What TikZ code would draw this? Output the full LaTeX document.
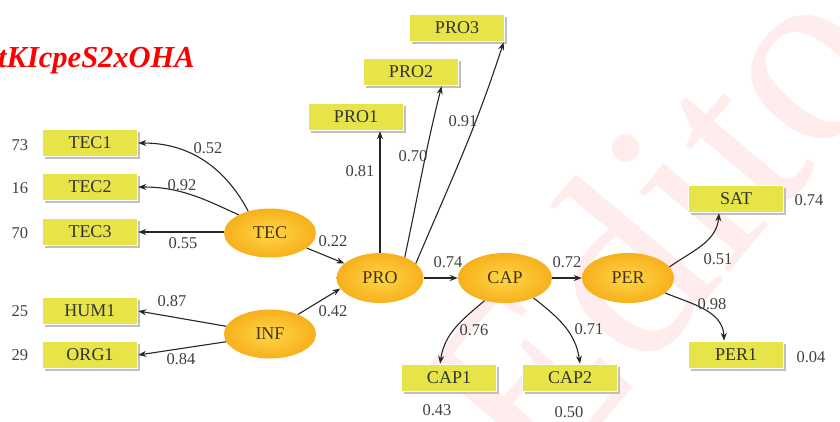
\documentclass[tikz,border=0pt]{standalone}
\usepackage{fontspec}
\setmainfont{Liberation Serif}
\usetikzlibrary{arrows.meta,shadows,shapes.geometric}
\definecolor{boxyellow}{RGB}{230,228,72}
\definecolor{ellorange}{RGB}{247,176,28}
\definecolor{elllight}{RGB}{255,214,70}
\definecolor{txtdark}{RGB}{70,50,20}
\definecolor{wmpink}{RGB}{255,236,236}
\begin{document}
\begin{tikzpicture}[x=1pt,y=1pt,
  ind/.style={rectangle, fill=boxyellow, draw=white, line width=1.5pt,
    minimum width=95pt, minimum height=27pt, inner sep=0pt,
    font=\fontsize{18}{18}\selectfont, text=black!80,
    drop shadow={shadow xshift=2.5pt, shadow yshift=-2.5pt, fill=gray!50, opacity=1}},
  lat/.style={ellipse, minimum width=92pt, minimum height=49pt, inner sep=0pt,
    inner color=elllight, outer color=ellorange,
    font=\fontsize{18}{18}\selectfont, text=txtdark},
  coef/.style={font=\fontsize{16.5}{16.5}\selectfont, text=black!75, inner sep=0pt},
  arr/.style={-{Stealth[length=8pt,width=6pt]}, line width=1.1pt, black!85},
]
\useasboundingbox (0,0) rectangle (840,-421);
\clip (0,0) rectangle (840,-421);

% watermark
\node[rotate=50, anchor=base west, text=wmpink, font=\fontsize{260}{260}\selectfont, inner sep=0pt] (wm) at (540,-498) {Edito};
\node[anchor=base east, text=red, font=\bfseries\itshape\fontsize{30.5}{30.5}\selectfont, inner sep=0pt] (title) at (195,-67) {tKIcpeS2xOHA};

% indicator boxes
\node[ind] (tec1) at (90,-143) {TEC1};
\node[ind] (tec2) at (90,-187) {TEC2};
\node[ind] (tec3) at (90,-232) {TEC3};
\node[ind] (hum1) at (90,-311) {HUM1};
\node[ind] (org1) at (90,-355) {ORG1};
\node[ind] (pro1) at (356,-117) {PRO1};
\node[ind] (pro2) at (411,-72) {PRO2};
\node[ind] (pro3) at (457,-28) {PRO3};
\node[ind] (sat) at (736,-199) {SAT};
\node[ind] (per1) at (736,-355) {PER1};
\node[ind] (cap1) at (449,-378) {CAP1};
\node[ind] (cap2) at (570,-378) {CAP2};

% latent variables
\node[lat] (tec) at (270,-233) {TEC};
\node[lat] (inf) at (270,-334) {INF};
\node[lat, minimum width=87pt, minimum height=50pt] (pro) at (380,-278) {PRO};
\node[lat, minimum width=94pt, minimum height=50pt] (cap) at (505,-278) {CAP};
\node[lat, minimum width=92pt, minimum height=50pt] (per) at (628,-278) {PER};

% error / R2 values
\node[coef] (e1) at (20,-145) {73};
\node[coef] (e2) at (20,-188) {16};
\node[coef] (e3) at (20,-233) {70};
\node[coef] (e4) at (20,-311) {25};
\node[coef] (e5) at (20,-355) {29};
\node[coef] (e6) at (809,-200) {0.74};
\node[coef] (e7) at (811,-357) {0.04};
\node[coef] (e8) at (437,-410) {0.43};
\node[coef] (e9) at (569,-412) {0.50};

% connectors
\draw[arr] (tec.135) to[out=118,in=0] (tec1.east);
\draw[arr] (tec.150) to[out=155,in=0] (tec2.east);
\draw[arr] (tec.west |- tec3.east) -- (tec3.east);
\draw[arr] (tec) -- (pro);
\draw[arr] (inf.35) -- (pro.195);
\draw[arr] (inf.170) -- (hum1.east);
\draw[arr] (inf.190) -- (org1.east);
\draw[arr] (pro.north) -- (pro.north |- pro1.south);
\draw[arr] (pro.40) to[out=78,in=-104] (pro2.-25);
\draw[arr] (pro.22) to[out=67,in=-108] (pro3.-17);
\draw[arr] (pro) -- (cap);
\draw[arr] (cap) -- (per);
\draw[arr] (per.15) to[out=35,in=-95] (sat.-140);
\draw[arr] (per.-22) to[out=-22,in=92] (per1.130);
\draw[arr] (cap.228) to[out=220,in=82] (cap1.122);
\draw[arr] (cap.-35) to[out=-38,in=98] (cap2.55);

% path coefficients
\node[coef] (c1) at (208,-148) {0.52};
\node[coef] (c2) at (182,-185) {0.92};
\node[coef] (c3) at (183,-243) {0.55};
\node[coef] (c4) at (333,-241) {0.22};
\node[coef] (c5) at (333,-311) {0.42};
\node[coef] (c6) at (172,-301) {0.87};
\node[coef] (c7) at (181,-359) {0.84};
\node[coef] (c8) at (360,-171) {0.81};
\node[coef] (c9) at (413,-156) {0.70};
\node[coef] (c10) at (463,-121) {0.91};
\node[coef] (c11) at (448,-262) {0.74};
\node[coef] (c12) at (567,-262) {0.72};
\node[coef] (c13) at (718,-259) {0.51};
\node[coef] (c14) at (712,-304) {0.98};
\node[coef] (c15) at (474,-330) {0.76};
\node[coef] (c16) at (589,-329) {0.71};
\end{tikzpicture}
\end{document}
